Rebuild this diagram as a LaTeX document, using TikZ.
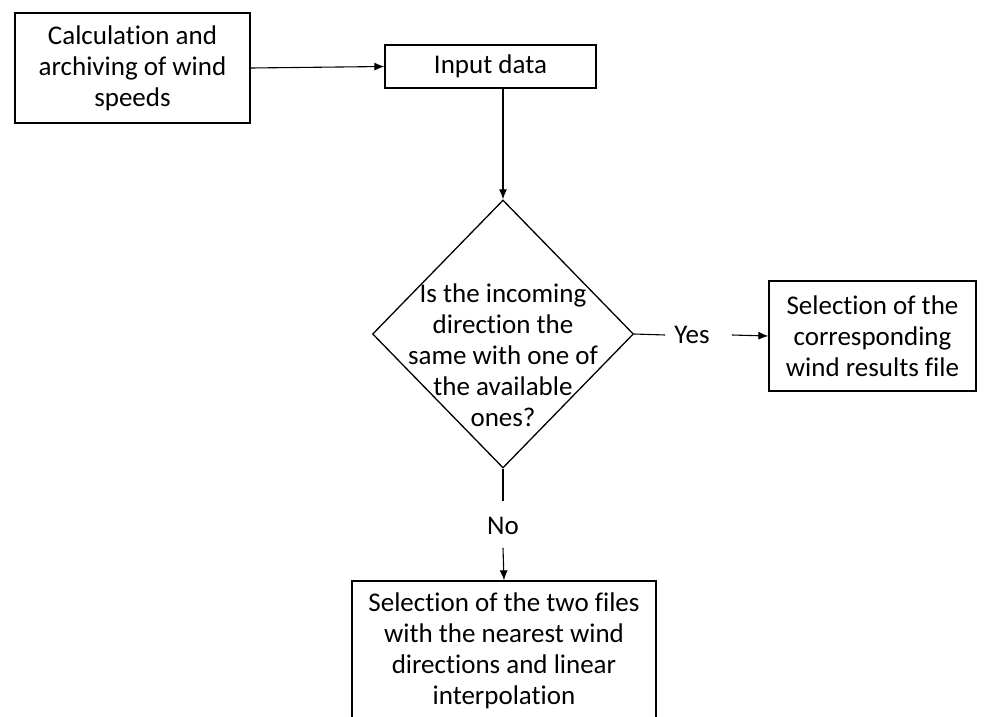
\documentclass[tikz,border=0pt]{standalone}
\usepackage{fontspec}
\setmainfont{Carlito}[Ligatures=NoCommon]
\usetikzlibrary{arrows.meta,positioning,calc,shapes.geometric}
\tikzset{
  box/.style={rectangle, draw, line width=1.3pt, inner sep=0pt, align=center,
    font=\fontsize{27pt}{31pt}\selectfont},
  decision/.style={diamond, draw, line width=1.3pt, inner sep=0pt,
    minimum width=261pt, minimum height=268pt},
  txt/.style={inner sep=0pt, align=center, font=\fontsize{27pt}{31pt}\selectfont},
  flow/.style={line width=1.1pt, -{Latex[length=10pt,width=8pt]}},
  plain/.style={line width=1.1pt}
}
\begin{document}
\begin{tikzpicture}[x=1pt, y=-1pt]
        \clip (0,0) rectangle (1005,717);
        %nodes
        \node[box, minimum width=235pt, minimum height=110pt] (calc) at (132.5, 68) {Calculation and\\archiving of wind\\speeds};
        \node[box, minimum width=211pt, minimum height=43pt] (input) at (490.5, 66.5) {Input data};
        \node[decision] (dec) at (503, 334) {};
        \node[txt] (dectext) at (503, 355) {Is the incoming\\direction the\\same with one of\\the available\\ones?};
        \node[box, minimum width=207pt, minimum height=110pt] (sel1) at (872.5, 336) {Selection of the\\corresponding\\wind results file};
        \node[box, minimum width=304pt, minimum height=140pt] (sel2) at (504, 651) {Selection of the two files\\with the nearest wind\\directions and linear\\interpolation};
        \node[txt] (yes) at (692, 335) {Yes};
        \node[txt] (no) at (503, 526) {No};
        %edges
        \draw[flow] (calc.east) -- (input.west);
        \draw[flow] (input.south -| dec.north) -- (dec.north);
        \draw[plain] (dec.east) -- ([xshift=-9pt]yes.west);
        \draw[flow] ([xshift=22pt]yes.east) -- (sel1.west);
        \draw[plain] (dec.south) -- ([yshift=16pt]no.north);
        \draw[flow] ([yshift=-13pt]no.south) -- (sel2.north);
\end{tikzpicture}
\end{document}
